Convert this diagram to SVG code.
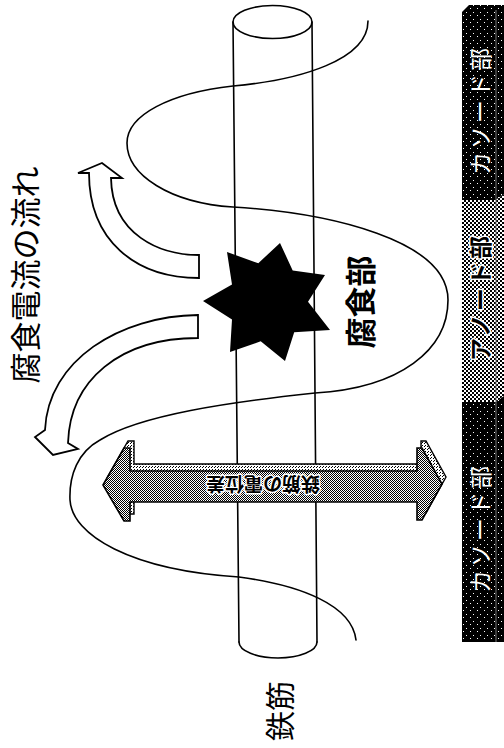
<svg xmlns="http://www.w3.org/2000/svg" width="504" height="748" viewBox="0 0 504 748">
  <defs>
    <!-- fine 1px checker halftone -->
    <pattern id="checkFine" patternUnits="userSpaceOnUse" width="2" height="2">
      <rect width="2" height="2" fill="#fff"/>
      <rect width="1" height="1" fill="#000"/>
      <rect x="1" y="1" width="1" height="1" fill="#000"/>
    </pattern>
    <!-- coarser 2px checker halftone -->
    <pattern id="checkCoarse" patternUnits="userSpaceOnUse" width="4" height="4">
      <rect width="4" height="4" fill="#fff"/>
      <rect width="2" height="2" fill="#000"/>
      <rect x="2" y="2" width="2" height="2" fill="#000"/>
    </pattern>
    <!-- sparse dot stipple for top faces -->
    <pattern id="dots" patternUnits="userSpaceOnUse" width="3" height="3">
      <rect width="3" height="3" fill="#fff"/>
      <rect width="1" height="1" fill="#000"/>
      <rect x="1" y="2" width="1" height="1" fill="#000"/>
    </pattern>
    <!-- black with scattered white specks -->
    <pattern id="darkSpeck" patternUnits="userSpaceOnUse" width="7" height="7">
      <rect width="7" height="7" fill="#000"/>
      <rect x="1" y="1" width="1" height="1" fill="#fff"/>
      <rect x="4" y="5" width="1" height="1" fill="#fff"/>
    </pattern>
    <style>
      .ln { fill: none; stroke: #000; stroke-width: 1.6; stroke-linejoin: round; stroke-linecap: round; }
      .hollow { fill: #fff; stroke: #000; stroke-width: 1.8; stroke-linejoin: miter; }
      .jp { font-family: "Noto Sans CJK JP", "Noto Sans", sans-serif; text-anchor: middle; dominant-baseline: central; }
      .big { font-size: 31px; fill: #000; }
      .band { font-size: 23px; letter-spacing: 3px; }
      .halo { stroke: #fff; stroke-width: 3; paint-order: stroke; stroke-linejoin: round; }
    </style>
  </defs>

  <rect width="504" height="748" fill="#fff"/>

  <!-- zone band along the bar -->
  <g id="zone-band">
    <polygon points="462,12 469,5 504,5 504,194 496,200 462,200" fill="url(#darkSpeck)"/>
    <polygon points="462,200 496,200 504,194 504,396 496,402 462,402" fill="url(#checkCoarse)"/>
    <polygon points="462,402 496,402 504,396 504,642 462,642" fill="url(#darkSpeck)"/>
    <line x1="496" y1="10" x2="496" y2="642" stroke="#777" stroke-width="1"/>
    <text class="jp band" transform="translate(479,110) rotate(-90)" fill="#fff">カソード部</text>
    <text class="jp band halo" transform="translate(479,297) rotate(-90)" fill="#000" font-weight="700">アノード部</text>
    <text class="jp band" transform="translate(479,528) rotate(-90)" fill="#fff">カソード部</text>
  </g>

  <!-- rebar cylinder -->
  <g id="rebar">
    <ellipse cx="272.5" cy="22" rx="39.5" ry="16.5" class="ln"/>
    <line x1="233" y1="22" x2="239" y2="642" class="ln"/>
    <line x1="312" y1="22" x2="317" y2="642" class="ln"/>
    <path d="M239,642 A39,16 0 0 0 317,642" class="ln"/>
  </g>

  <!-- current path winding around the bar -->
  <g id="connectors">
    <path class="ln" d="M368,21 C368,60 300,80 233,86 C170,93 127,115 127,143 C127,175 170,203 233,207 C330,213 448,240 448,300 C448,350 400,388 315,393 C230,402 140,415 100,440 C78,452 69,475 70,500 C72,535 130,570 239,577 C300,585 352,605 356,640"/>
  </g>

  <!-- corrosion spot -->
  <g id="corrosion">
    <polygon fill="#000" points="280,243 292.7,270.5 325,275 308,301.7 330,330 294.2,332.2 285,361 260.7,341.3 230,352 232,319.5 203,301 232,284.6 227,252 258.3,263.2"/>
    <text class="jp big" font-weight="700" transform="translate(358,302) rotate(-90)">腐食部</text>
  </g>

  <!-- corrosion current arrows -->
  <g id="current-arrows">
    <path class="hollow" d="M199,255 C160,255 112,235 111,178 L122,178 L102,163 L78,173 L89,173 C89,240 135,278 199,278 Z"/>
    <path class="hollow" d="M198,315 C120,316 48,360 45,430 L35,437 L53,455 L78,449 L68,443 C70,380 120,338 198,338 Z"/>
    <text class="jp big" transform="translate(23,275) rotate(-90)" style="font-size:31px">腐食電流の流れ</text>
  </g>

  <!-- potential difference double arrow -->
  <g id="potential-arrow">
    <path transform="translate(4,-7)" fill="url(#dots)" stroke="#000" stroke-width="1.4" stroke-linejoin="miter"
          d="M103,485 L124,448 L130,448 L130,471 L417,471 L417,448 L422,448 L442,484 L422,520 L417,520 L417,502 L130,502 L130,521 L124,521 Z"/>
    <path fill="url(#checkFine)" stroke="#000" stroke-width="1.6" stroke-linejoin="miter"
          d="M103,485 L124,448 L130,448 L130,471 L417,471 L417,448 L422,448 L442,484 L422,520 L417,520 L417,502 L130,502 L130,521 L124,521 Z"/>
    <text class="jp halo" transform="translate(263,485) rotate(180)" font-size="19" font-weight="700" fill="#000">鉄筋の電位差</text>
  </g>

  <!-- rebar label -->
  <g id="label-rebar">
    <text class="jp big" transform="translate(278,711) rotate(-90)" style="font-size:30px">鉄筋</text>
  </g>
</svg>
